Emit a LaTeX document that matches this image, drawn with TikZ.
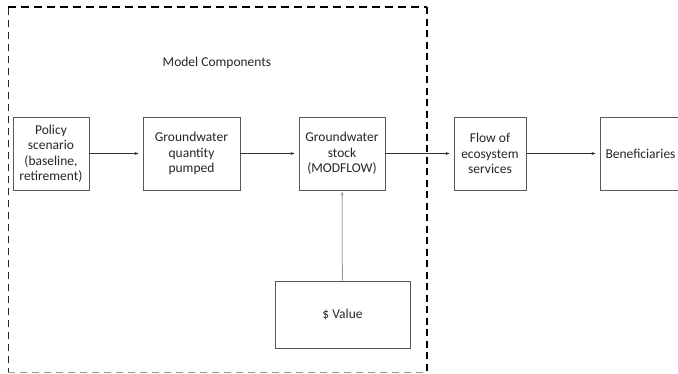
\documentclass[tikz,border=0pt]{standalone}
\usepackage{fontspec}
\setmainfont{Carlito}
\usetikzlibrary{arrows.meta}
\begin{document}
\begin{tikzpicture}[x=1pt,y=-1pt,
  box/.style={draw=black!65,line width=0.9pt,fill=white,align=center,inner sep=1pt,
    font=\fontsize{13.5}{15.5}\selectfont,text=black!85,minimum height=73pt},
  conn/.style={draw=black!80,line width=0.6pt,-{Stealth[length=4pt,width=3pt]},shorten >=4pt},
  gconn/.style={draw=black!40,line width=0.8pt,-{Stealth[length=4pt,width=3pt]},shorten >=1pt}]
\useasboundingbox (0,0) rectangle (678,373);
\clip (0,0) rectangle (678,373);
% dashed frame
\draw[black!85,line width=0.7pt,dash pattern=on 7pt off 5pt] (8,8) -- (8,373);
\draw[black!40,line width=0.9pt,dash pattern=on 7pt off 5pt] (8,372.3) -- (427,372.3);
\draw[black,line width=1.6pt,dash pattern=on 8pt off 5pt] (8,7) -- (427,7);
\draw[black,line width=1.6pt,dash pattern=on 7pt off 4.5pt] (427,7) -- (427,373);
\node[font=\fontsize{13.5}{15.5}\selectfont,text=black!85] (title) at (217,63) {Model Components};
% boxes
\node[box,minimum width=76pt] (policy) at (51,153.5) {Policy\\scenario\\(baseline,\\retirement)};
\node[box,minimum width=97pt] (pumped) at (191.5,153.5) {Groundwater\\quantity\\pumped};
\node[box,minimum width=86pt] (stock) at (342,153.5) {Groundwater\\stock\\(MODFLOW)};
\node[box,minimum width=72pt] (flow) at (490,153.5) {Flow of\\ecosystem\\services};
\node[box,minimum width=81pt] (benef) at (640.5,153.5) {Beneficiaries};
\node[box,minimum width=135pt,minimum height=67pt] (value) at (342.5,314.5) {\$ Value};
% connectors
\draw[conn] (policy) -- (pumped);
\draw[conn] (pumped) -- (stock);
\draw[conn] (stock) -- (flow);
\draw[conn] (flow) -- (benef);
\draw[gconn] (value) -- (stock);
\end{tikzpicture}
\end{document}
